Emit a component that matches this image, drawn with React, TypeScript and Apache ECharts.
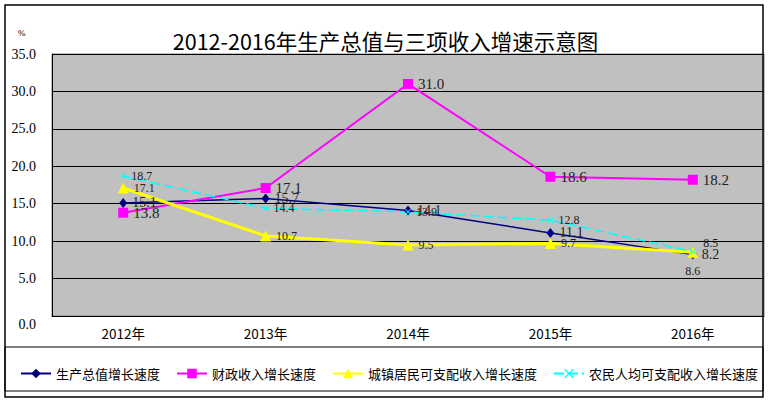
import React, { useEffect, useRef } from "react";
import * as echarts from "echarts";

const categories = ["2012年", "2013年", "2014年", "2015年", "2016年"];
const gdpGrowth = [15.1, 15.7, 14.1, 11.1, 8.2];
const fiscalGrowth = [13.8, 17.1, 31.0, 18.6, 18.2];
const urbanGrowth = [17.1, 10.7, 9.5, 9.7, 8.5];
const ruralGrowth = [18.7, 14.4, 13.9, 12.8, 8.6];
const seriesNames = ["生产总值增长速度", "财政收入增长速度", "城镇居民可支配收入增长速度", "农民人均可支配收入增长速度"];
const titleText = "2012-2016年生产总值与三项收入增速示意图";

const serif = "'Liberation Serif', 'Noto Sans CJK SC', serif";
const sans = "'Noto Sans CJK SC', 'Liberation Sans', sans-serif";
const crossPath = "path://M0,1L1,0L5,4L9,0L10,1L6,5L10,9L9,10L5,6L1,10L0,9L4,5Z";

export default function App() {
  const ref = useRef<HTMLDivElement>(null);
  useEffect(() => {
    if (!ref.current) return;
    const chart = echarts.init(ref.current, undefined, { renderer: "svg" });
    const lbl = (size: number) => ({
      show: true,
      position: "right" as const,
      distance: 5,
      fontFamily: serif,
      fontSize: size,
      color: "#222",
      formatter: (p: any) => Number(p.value).toFixed(1),
    });
    chart.setOption({
      animation: false,
      backgroundColor: "#fff",
      title: {
        text: titleText,
        left: "center",
        top: 25,
        textStyle: { fontFamily: sans, fontSize: 21.5, fontWeight: "normal", color: "#000" },
      },
      grid: {
        left: 52,
        top: 54,
        right: 7,
        bottom: 88,
        show: true,
        backgroundColor: "#C0C0C0",
        borderColor: "#808080",
        borderWidth: 1,
      },
      legend: {
        data: seriesNames,
        left: 15,
        top: 362,
        width: 756,
        itemWidth: 30,
        itemHeight: 12,
        itemGap: 16,
        textStyle: { fontFamily: sans, fontSize: 13, color: "#000" },
      },
      xAxis: {
        type: "category",
        data: categories,
        boundaryGap: true,
        axisLine: { lineStyle: { color: "#000", width: 1 } },
        axisTick: { show: false },
        axisLabel: { fontFamily: sans, fontSize: 13.5, color: "#000", margin: 10 },
      },
      yAxis: {
        type: "value",
        min: 0,
        max: 35,
        interval: 5,
        axisLine: { show: true, lineStyle: { color: "#000", width: 1 } },
        axisTick: { show: false },
        splitLine: { lineStyle: { color: "#000", width: 1 } },
        axisLabel: {
          fontFamily: serif,
          fontSize: 14,
          color: "#000",
          margin: 16,
          formatter: (v: number) => (v === 0 ? "{z|0.0}" : v.toFixed(1)),
          rich: { z: { fontFamily: serif, fontSize: 14, color: "#000", padding: [16, 0, 0, 0] } },
        },
      },
      graphic: [
        { type: "rect", shape: { x: 5, y: 5, width: 758, height: 392 }, style: { fill: "none", stroke: "#000", lineWidth: 1.5 }, silent: true },
        { type: "rect", shape: { x: 5, y: 347, width: 758, height: 44 }, style: { fill: "none", stroke: "#000", lineWidth: 1 }, silent: true },
        { type: "text", left: 18, top: 28, style: { text: "%", fontSize: 9, fontFamily: serif, fill: "#000" }, silent: true },
      ],
      series: [
        {
          name: seriesNames[0],
          type: "line",
          data: gdpGrowth,
          symbol: "diamond",
          symbolSize: [8, 10],
          itemStyle: { color: "#000080" },
          lineStyle: { color: "#000080", width: 1.5 },
          label: lbl(14),
        },
        {
          name: seriesNames[1],
          type: "line",
          data: fiscalGrowth,
          symbol: "rect",
          symbolSize: 10,
          itemStyle: { color: "#FF00FF" },
          lineStyle: { color: "#FF00FF", width: 2 },
          label: lbl(15),
        },
        {
          name: seriesNames[2],
          type: "line",
          data: urbanGrowth.map((v, i) =>
            i === 4 ? { value: v, label: { offset: [0, -9] } } : v
          ),
          symbol: "triangle",
          symbolSize: 11,
          itemStyle: { color: "#FFFF00" },
          lineStyle: { color: "#FFFF00", width: 3 },
          label: lbl(12),
        },
        {
          name: seriesNames[3],
          type: "line",
          data: ruralGrowth.map((v, i) =>
            i === 4 ? { value: v, label: { position: "bottom", distance: 10 } } : v
          ),
          symbol: crossPath,
          symbolSize: 6,
          itemStyle: { color: "#00FFFF" },
          lineStyle: { color: "#00FFFF", width: 1.5, type: [10, 4] },
          label: lbl(12),
        },
      ],
    });
    return () => chart.dispose();
  }, []);
  return (
    <div
      ref={ref}
      style={{ position: "fixed", left: 0, top: 0, width: 771, height: 404 }}
    />
  );
}
